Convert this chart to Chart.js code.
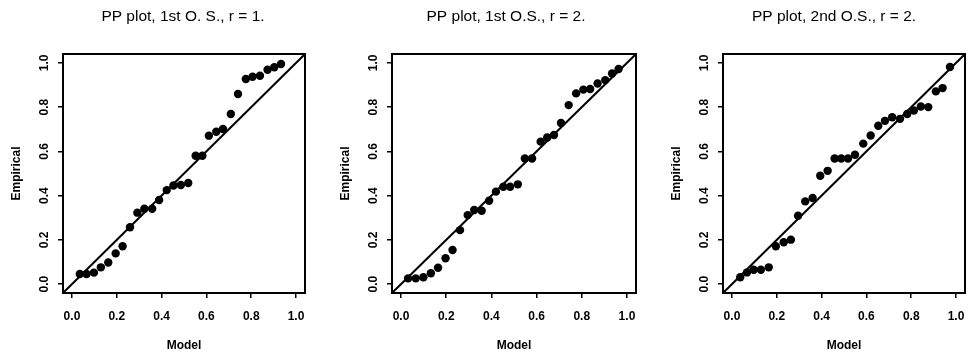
<!DOCTYPE html>
<html>
<head>
<meta charset="utf-8">
<script src="https://cdn.jsdelivr.net/npm/chart.js@4.4.1/dist/chart.umd.min.js"></script>
<style>
  body { margin: 0; background: #fff; overflow: hidden; }
  #wrap { position: relative; width: 969px; height: 361px; overflow: hidden; }
  canvas { position: absolute; top: 0; }
</style>
</head>
<body>
<div id="wrap">
  <canvas id="pp1" width="366" height="361" style="left:0px"></canvas>
  <canvas id="pp2" width="354" height="361" style="left:329px"></canvas>
  <canvas id="pp3" width="348" height="361" style="left:660px"></canvas>
</div>
<script>
// datos
const titulos = ['PP plot, 1st O. S., r = 1.', 'PP plot, 1st O.S., r = 2.', 'PP plot, 2nd O.S., r = 2.'];
const marcasEje = [0, 0.2, 0.4, 0.6, 0.8, 1.0];
const limitesEje = [-0.04, 1.04];

// panel 1: 1er estadístico de orden, r = 1
const modelo1 = [0.035, 0.065, 0.098, 0.129, 0.162, 0.195, 0.226, 0.259, 0.292, 0.323, 0.358, 0.389, 0.423, 0.453, 0.486,
    0.519, 0.552, 0.582, 0.611, 0.644, 0.674, 0.709, 0.741, 0.776, 0.806, 0.839, 0.873, 0.903, 0.933];
const empirico1 = [0.046, 0.046, 0.052, 0.076, 0.098, 0.139, 0.171, 0.257, 0.323, 0.341, 0.341, 0.380, 0.425, 0.446, 0.448,
    0.457, 0.580, 0.580, 0.671, 0.689, 0.701, 0.769, 0.859, 0.927, 0.937, 0.942, 0.969, 0.980, 0.995];

// panel 2: 1er estadístico de orden, r = 2
const modelo2 = [0.031, 0.065, 0.099, 0.132, 0.164, 0.197, 0.228, 0.261, 0.295, 0.324, 0.357, 0.390, 0.420, 0.453, 0.483,
    0.517, 0.548, 0.580, 0.618, 0.647, 0.677, 0.708, 0.742, 0.775, 0.807, 0.837, 0.870, 0.904, 0.934, 0.963];
const empirico2 = [0.026, 0.026, 0.031, 0.049, 0.074, 0.117, 0.154, 0.244, 0.312, 0.335, 0.332, 0.377, 0.418, 0.440, 0.440,
    0.451, 0.568, 0.568, 0.644, 0.663, 0.674, 0.728, 0.809, 0.862, 0.879, 0.882, 0.907, 0.922, 0.952, 0.972];

// panel 3: 2do estadístico de orden, r = 2
const modelo3 = [0.037, 0.067, 0.097, 0.129, 0.164, 0.196, 0.231, 0.263, 0.295, 0.327, 0.360, 0.394, 0.427, 0.458, 0.488,
    0.518, 0.549, 0.586, 0.619, 0.653, 0.683, 0.715, 0.750, 0.782, 0.812, 0.843, 0.876, 0.910, 0.940, 0.973];
const empirico3 = [0.031, 0.053, 0.065, 0.065, 0.076, 0.171, 0.189, 0.201, 0.309, 0.374, 0.389, 0.490, 0.512, 0.568, 0.568,
    0.568, 0.585, 0.635, 0.672, 0.716, 0.738, 0.754, 0.747, 0.769, 0.785, 0.803, 0.800, 0.871, 0.886, 0.981];

const fuenteTitulo = "'Liberation Sans', Arial, sans-serif";
const fuenteEjes = "'Liberation Sans', Arial, sans-serif";

// marco alrededor del área del gráfico
const marcoPlugin = {
    id: 'marco',
    afterDatasetsDraw(chart) {
        const { ctx, chartArea: a } = chart;
        ctx.save();
        ctx.strokeStyle = '#000';
        ctx.lineWidth = 2;
        ctx.strokeRect(a.left, a.top, a.right - a.left, a.bottom - a.top);
        ctx.restore();
    }
};

function configEje(texto, esY) {
    return {
        type: 'linear',
        min: limitesEje[0],
        max: limitesEje[1],
        afterBuildTicks: s => { s.ticks = marcasEje.map(v => ({ value: v })); },
        afterFit: s => {
            if (esY) s.width = 63;
            else s.height = 68;
        },
        ticks: {
            callback: v => v.toFixed(1),
            color: '#000',
            font: { family: fuenteEjes, size: 12, weight: 'bold' },
            padding: esY ? 5 : 11,
            autoSkip: false,
            minRotation: esY ? 90 : 0,
            maxRotation: esY ? 90 : 0,
            crossAlign: esY ? 'center' : 'near'
        },
        grid: { drawOnChartArea: false, drawTicks: true, tickLength: 5, color: '#000', lineWidth: 1.5 },
        border: { display: false },
        title: {
            display: true,
            text: texto,
            color: '#000',
            font: { family: fuenteEjes, size: 12, weight: 'bold' },
            padding: esY ? { top: 9, bottom: 0 } : { top: 0, bottom: 8 }
        }
    };
}

// eje vacío a la derecha: solo reserva espacio para que el título quede centrado como en la figura
function ejeRelleno(ancho) {
    return {
        type: 'linear',
        position: 'right',
        display: true,
        min: limitesEje[0],
        max: limitesEje[1],
        ticks: { display: false },
        grid: { display: false },
        border: { display: false },
        afterFit: s => { s.width = ancho; }
    };
}

function crearPanel(id, titulo, modelo, empirico, relleno) {
    const puntos = modelo.map((m, i) => ({ x: m, y: empirico[i] }));
    return new Chart(document.getElementById(id), {
        type: 'scatter',
        data: {
            datasets: [{
                type: 'line',
                data: limitesEje.map(v => ({ x: v, y: v })),
                borderColor: '#000',
                borderWidth: 2,
                pointRadius: 0
            }, {
                data: puntos,
                backgroundColor: '#000',
                borderColor: '#000',
                pointRadius: 4.2,
                borderWidth: 0
            }]
        },
        options: {
            responsive: false,
            animation: false,
            events: [],
            layout: { padding: 0 },
            plugins: {
                legend: { display: false },
                tooltip: { enabled: false },
                title: {
                    display: true,
                    text: titulo,
                    color: '#000',
                    font: { family: fuenteTitulo, size: 15.5, weight: 'normal' },
                    padding: { top: 7, bottom: 28.4 }
                }
            },
            scales: {
                x: configEje('Model', false),
                y: configEje('Empirical', true),
                yDer: ejeRelleno(relleno)
            }
        },
        plugins: [marcoPlugin]
    });
}

document.addEventListener('DOMContentLoaded', () => {
    crearPanel('pp1', titulos[0], modelo1, empirico1, 61);
    crearPanel('pp2', titulos[1], modelo2, empirico2, 47);
    crearPanel('pp3', titulos[2], modelo3, empirico3, 43);
});
</script>
</body>
</html>
